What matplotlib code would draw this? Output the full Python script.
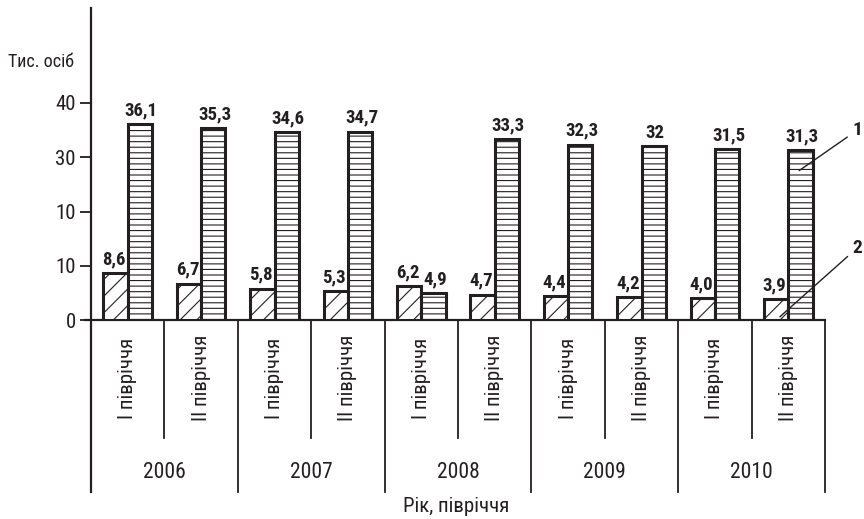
import matplotlib
matplotlib.use("Agg")
import matplotlib.pyplot as plt
from matplotlib import font_manager

# --- data -------------------------------------------------------------
years = ["2006", "2007", "2008", "2009", "2010"]
halves = ["I півріччя", "II півріччя"]
series1 = [36.1, 35.3, 34.6, 34.7, 4.9, 33.3, 32.3, 32.0, 31.5, 31.3]
series2 = [8.6, 6.7, 5.8, 5.3, 6.2, 4.7, 4.4, 4.2, 4.0, 3.9]
labels1 = ["36,1", "35,3", "34,6", "34,7", "4,9", "33,3", "32,3", "32", "31,5", "31,3"]
labels2 = ["8,6", "6,7", "5,8", "5,3", "6,2", "4,7", "4,4", "4,2", "4,0", "3,9"]
yticks = [0, 10, 20, 30, 40]
ytick_labels = ["0", "10", "10", "30", "40"]
series_names = ["1", "2"]
y_title = "Тис. осіб"
x_title = "Рік, півріччя"

# --- font: prefer a narrow sans if one is installed --------------------
installed = {f.name for f in font_manager.fontManager.ttflist}
family = "DejaVu Sans"
for cand in ["Liberation Sans Narrow", "DejaVu Sans Condensed", "Roboto Condensed",
             "Open Sans Condensed", "Liberation Sans"]:
    if cand in installed:
        family = cand
        break
plt.rcParams["font.family"] = [family, "DejaVu Sans"]
plt.rcParams["hatch.linewidth"] = 0.8

INK = "#231f20"
plt.rcParams["hatch.color"] = INK

fig = plt.figure(figsize=(8.64, 5.19), dpi=100)
W, H = 864, 519
x0, x1 = 91, 825       # horizontal extent of the category band (px)
y_zero, y_top = 320, 8  # baseline and top of value axis (px)
px_per_unit = (320 - 103) / 40.0
ymax = (y_zero - y_top) / px_per_unit
ax = fig.add_axes([x0 / W, 1 - y_zero / H, (x1 - x0) / W, (y_zero - y_top) / H])
ax.set_xlim(0, 10)
ax.set_ylim(0, ymax)
for s in ax.spines.values():
    s.set_visible(False)

n = len(series1)
centers = [i + 0.5 for i in range(n)]
bw = 0.33
ax.bar([c - bw / 2 for c in centers], series2, width=bw, facecolor="white",
       edgecolor=INK, linewidth=2.2, hatch="//", zorder=3)
ax.bar([c + bw / 2 for c in centers], series1, width=bw, facecolor="white",
       edgecolor=INK, linewidth=2.2, hatch="---", zorder=3)

for c, v, t in zip(centers, series2, labels2):
    ax.text(c - bw / 2 - 0.02, v + 0.9, t, ha="center", va="bottom", fontsize=13.5,
            fontweight="bold", color=INK)
for c, v, t in zip(centers, series1, labels1):
    ax.text(c + bw / 2 + 0.02, v + 0.9, t, ha="center", va="bottom", fontsize=13.5,
            fontweight="bold", color=INK)

# value axis
ax.set_yticks(yticks)
ax.set_yticklabels(ytick_labels)
ax.tick_params(axis="y", length=8, width=1.3, color=INK, pad=3, labelsize=15,
               labelcolor=INK)
ax.set_xticks([])

# axis lines and category grid (below the baseline)
tr = ax.get_xaxis_transform()
long_end = -(492 - y_zero) / (y_zero - y_top)
short_end = -(438 - y_zero) / (y_zero - y_top)
ax.plot([0, 0], [1, long_end], color=INK, lw=1.6, transform=tr, clip_on=False)
ax.plot([-0.08, 10], [0, 0], color=INK, lw=1.6, transform=tr, clip_on=False)
for k in range(1, 11):
    end = long_end if k % 2 == 0 else short_end
    ax.plot([k, k], [0, end], color=INK, lw=1.3, transform=tr, clip_on=False)

lab_y = -(378 - y_zero) / (y_zero - y_top)
for i, c in enumerate(centers):
    ax.text(c, lab_y, halves[i % 2], rotation=90, ha="center", va="center",
            fontsize=15, color=INK, transform=tr)
year_y = -(473 - y_zero) / (y_zero - y_top)
for j, yr in enumerate(years):
    ax.text(2 * j + 1, year_y, yr, ha="center", va="center", fontsize=15.5,
            color=INK, transform=tr)

fig.text(456 / W, 1 - 506 / H, x_title, ha="center", va="center", fontsize=15,
         color=INK)
fig.text(41 / W, 1 - 62 / H, y_title, ha="center", va="center", fontsize=13,
         color=INK)

# numbered callouts for the two series
last = centers[-1]
ax.annotate(series_names[0], xy=(last + bw * 0.45, series1[-1] * 0.88),
            xytext=(10.44, 35.0), ha="center", va="center", fontsize=14,
            fontweight="bold", color=INK, annotation_clip=False,
            arrowprops=dict(arrowstyle="-", color=INK, lw=1.0, shrinkA=2, shrinkB=0))
ax.annotate(series_names[1], xy=(last - bw * 0.35, series2[-1] * 0.15),
            xytext=(10.44, 13.3), ha="center", va="center", fontsize=14,
            fontweight="bold", color=INK, annotation_clip=False,
            arrowprops=dict(arrowstyle="-", color=INK, lw=1.0, shrinkA=2, shrinkB=0))

fig.savefig("out.png", dpi=100)
